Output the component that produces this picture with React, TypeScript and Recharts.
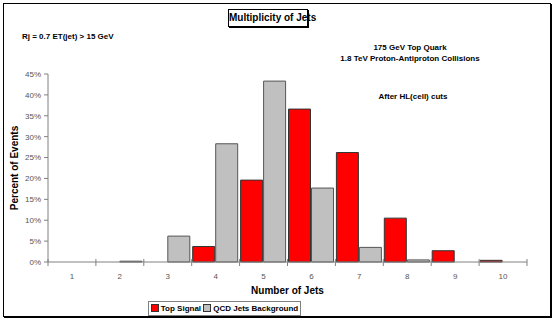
import { Bar, BarChart, XAxis, YAxis } from "recharts";

// Anzahl der Jets pro Ereignis, Anteil in %
const jetCounts = ["1", "2", "3", "4", "5", "6", "7", "8", "9", "10"];
const topSignal = [0, 0, 0, 3.7, 19.6, 36.6, 26.2, 10.5, 2.7, 0.4];
const qcdBackground = [0, 0.2, 6.2, 28.3, 43.3, 17.7, 3.5, 0.5, 0, 0];
const percentTicks = [0, 5, 10, 15, 20, 25, 30, 35, 40, 45];

const data = jetCounts.map((n, i) => ({
  jets: n,
  top: topSignal[i],
  qcd: qcdBackground[i],
}));

const W = 554;
const H = 321;
const margin = { top: 74, right: 27, bottom: 21, left: 18 };
const yAxisWidth = 30;
const band = (W - margin.left - yAxisWidth - margin.right) / jetCounts.length;
const font = '"Liberation Sans", Arial, sans-serif';

// Excel-artig: Striche zwischen den Kategorien, Beschriftung mittig
function JetTick(props: any) {
  const { x, y, payload, index } = props;
  const left = x - band / 2;
  const right = x + band / 2;
  return (
    <g>
      <line x1={left} x2={left} y1={y - 3} y2={y + 4} stroke="#808080" />
      {index === jetCounts.length - 1 && (
        <line x1={right} x2={right} y1={y - 3} y2={y + 4} stroke="#808080" />
      )}
      <text x={x} y={y + 17} textAnchor="middle" fontSize={8} fill="#555">
        {payload.value}
      </text>
    </g>
  );
}

function Swatch({ color }: { color: string }) {
  return (
    <span
      style={{
        display: "inline-block",
        width: 6,
        height: 6,
        background: color,
        border: "1px solid #333",
        marginRight: 2,
        verticalAlign: "-1px",
      }}
    />
  );
}

export default function App() {
  return (
    <div style={{ position: "absolute", left: 0, top: 0, width: W, height: H, background: "#fff", fontFamily: font }}>
      <div
        style={{
          position: "absolute",
          left: 3,
          top: 3,
          width: 546,
          height: 312,
          border: "1px solid #000",
          boxShadow: "1px 1px 0 #000",
        }}
      />
      <BarChart
        width={W}
        height={H}
        data={data}
        margin={margin}
        barCategoryGap={1}
        barGap={1}
        style={{ position: "absolute", left: 0, top: 0 }}
      >
        <XAxis
          dataKey="jets"
          height={38}
          tickSize={0}
          tickMargin={0}
          tickLine={false}
          axisLine={{ stroke: "#808080" }}
          tick={<JetTick />}
          interval={0}
          label={{ value: "Number of Jets", position: "insideBottom", offset: 6, style: { fontSize: 10, fontWeight: "bold", fill: "#000" } }}
        />
        <YAxis
          width={yAxisWidth}
          domain={[0, 45]}
          ticks={percentTicks}
          tickFormatter={(v: number) => `${v}%`}
          tickSize={4}
          tickMargin={3}
          tick={{ fontSize: 8, fill: "#555" }}
          tickLine={{ stroke: "#808080" }}
          axisLine={{ stroke: "#808080" }}
          label={{
            value: "Percent of Events",
            angle: -90,
            position: "insideLeft",
            offset: -4,
            style: { textAnchor: "middle", fontSize: 10, fontWeight: "bold", fill: "#000" },
          }}
        />
        <Bar dataKey="top" name="Top Signal" fill="#ff0000" stroke="#333" strokeWidth={1} isAnimationActive={false} />
        <Bar dataKey="qcd" name="QCD Jets Background" fill="#c0c0c0" stroke="#555" strokeWidth={1} isAnimationActive={false} />
      </BarChart>

      <div
        style={{
          position: "absolute",
          left: 228,
          top: 9,
          width: 78,
          height: 16,
          border: "1px solid #000",
          boxShadow: "1px 1px 0 #000",
          fontSize: 10,
          fontWeight: "bold",
          textAlign: "center",
          lineHeight: "16px",
          whiteSpace: "nowrap",
        }}
      >
        Multiplicity of Jets
      </div>
      <div style={{ position: "absolute", left: 22, top: 32, fontSize: 8, fontWeight: "bold", whiteSpace: "nowrap" }}>
        Rj = 0.7 ET(jet) &gt; 15 GeV
      </div>
      <div
        style={{
          position: "absolute",
          left: 330,
          top: 42,
          width: 160,
          fontSize: 8,
          fontWeight: "bold",
          textAlign: "center",
          lineHeight: "11px",
        }}
      >
        175 GeV Top Quark
        <br />
        1.8 TeV Proton-Antiproton Collisions
      </div>
      <div
        style={{ position: "absolute", left: 333, top: 92, width: 160, fontSize: 8, fontWeight: "bold", textAlign: "center" }}
      >
        After HL(cell) cuts
      </div>

      <div
        style={{
          position: "absolute",
          left: 148,
          top: 301,
          width: 151,
          height: 13,
          border: "1px solid #808080",
          fontSize: 8,
          fontWeight: "bold",
          lineHeight: "13px",
          textAlign: "center",
          whiteSpace: "nowrap",
        }}
      >
        <Swatch color="#ff0000" />
        Top Signal <Swatch color="#c0c0c0" />
        QCD Jets Background
      </div>
    </div>
  );
}
